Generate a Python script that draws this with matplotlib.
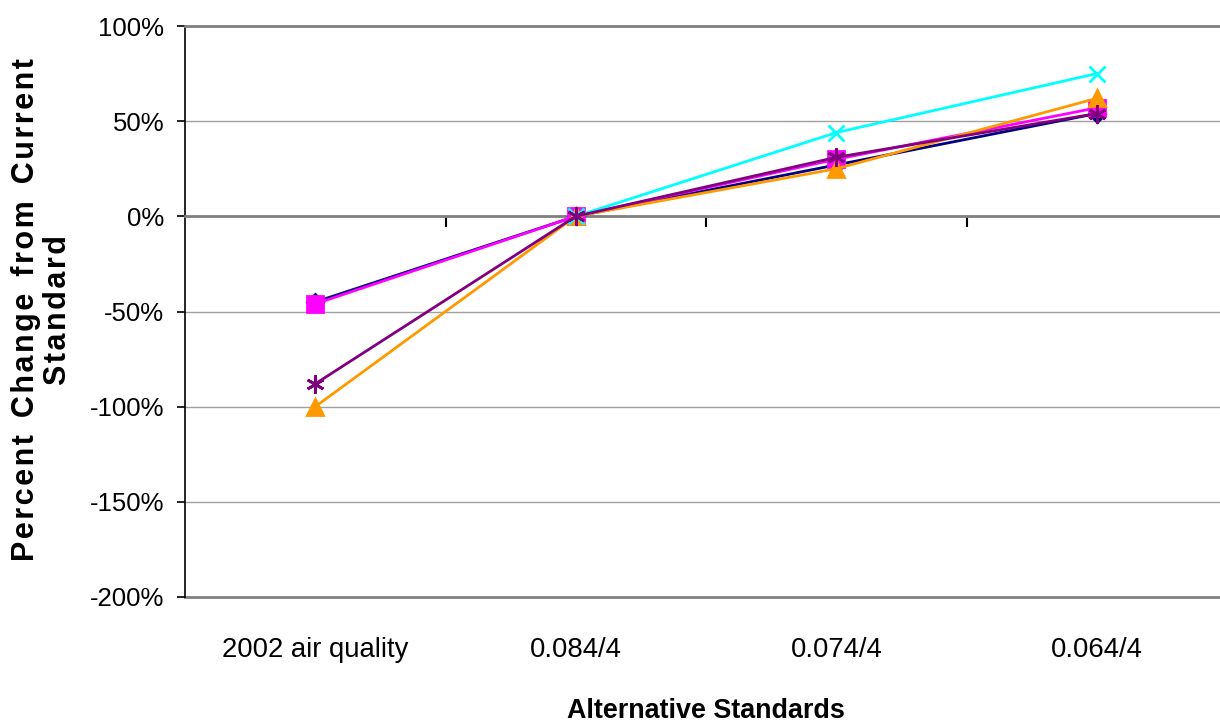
import matplotlib
matplotlib.use("Agg")
import matplotlib.pyplot as plt
import numpy as np

plt.rcParams['font.family'] = ['Liberation Sans', 'DejaVu Sans']

kategorie = ["2002 air quality", "0.084/4", "0.074/4", "0.064/4"]

# wartosci w procentach
granatowa = [-45, 0, 27, 54]
rozowa = [-46, 0, 30, 57]
pomaranczowa = [-100, 0, 25, 62]
blekitna = [np.nan, 0, 44, 75]
fioletowa = [-88, 0, 31, 54]

serie = [
    (granatowa, '#000080', 'D', 8),
    (rozowa, '#FF00FF', 's', 11),
    (pomaranczowa, '#FF9900', '^', 11),
    (blekitna, '#00FFFF', 'x', 11),
    (fioletowa, '#800080', (6, 2, 0), 13),
]

fig = plt.figure(figsize=(12.2, 7.24), dpi=100)
ax = fig.add_axes([185 / 1220, 127 / 724, 1042 / 1220, 571 / 724])

x = np.arange(len(kategorie))
for dane, kolor, znacznik, rozmiar in serie:
    ax.plot(x, dane, color=kolor, lw=2, marker=znacznik, ms=rozmiar,
            mec=kolor, mew=2, zorder=3)

ax.set_xlim(-0.5, 3.5)
ax.set_ylim(-200, 100)
ax.set_yticks(np.arange(-200, 101, 50))
ax.set_yticklabels([f"{v}%" for v in range(-200, 101, 50)])
ax.tick_params(axis='y', labelsize=18.5, length=6, width=1.2, pad=9, colors='black')
ax.yaxis.grid(True, color='#a0a0a0', lw=1)
ax.set_axisbelow(True)

# os kategorii przecina w 0%
ax.spines['bottom'].set_position(('data', 0))
ax.spines['bottom'].set_color('#808080')
ax.spines['bottom'].set_linewidth(2)
ax.set_xticks([0.5, 1.5, 2.5])
ax.set_xticklabels([])
ax.tick_params(axis='x', direction='out', length=8, width=1.5, color='black')
ax.spines['top'].set_color('#808080')
ax.spines['top'].set_linewidth(2)
ax.spines['right'].set_visible(False)
ax.spines['left'].set_linewidth(1.2)

ax2 = ax.secondary_xaxis('bottom')
ax2.set_xticks(x)
ax2.set_xticklabels(kategorie)
ax2.tick_params(length=0, labelsize=19.8, pad=29)
ax2.spines['bottom'].set_color('#808080')
ax2.spines['bottom'].set_linewidth(2)
ax2.set_xlabel("Alternative Standards", fontsize=19.4, fontweight='bold', labelpad=25)

hs = "\u200a"
linia1 = "  ".join(hs.join(slowo) for slowo in ["Percent", "Change", "from", "Current"])
linia2 = hs.join("Standard")
fig.text(0.0345, 0.572, linia1 + "\n" + linia2,
         rotation=90, ha='center', va='center', fontsize=22, fontweight='bold',
         linespacing=1.12, multialignment='center')

fig.savefig("out.png", dpi=100)
